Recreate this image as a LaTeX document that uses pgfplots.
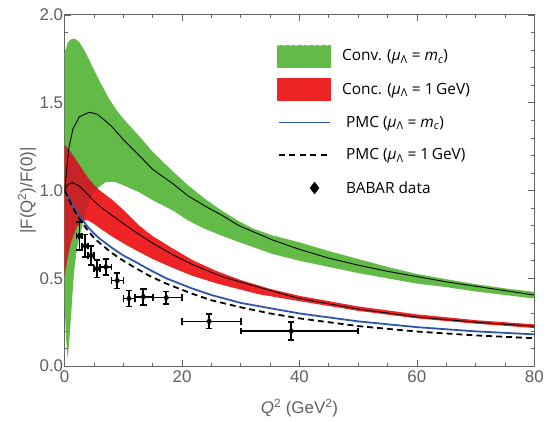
\documentclass[border=0pt]{standalone}
\usepackage{pgfplots}
\pgfplotsset{compat=1.18}
\usepackage{pgfplotstable}
\usepgfplotslibrary{fillbetween}
\usepackage{fontspec}
\setmainfont{Liberation Sans}
\newfontfamily\legfont{Open Sans}
\definecolor{cgreen}{RGB}{98,187,71}
\definecolor{cred}{RGB}{237,35,37}
\definecolor{cdark}{RGB}{200,36,40}
\definecolor{cblue}{RGB}{45,85,170}
\definecolor{fgray}{RGB}{100,100,100}
\definecolor{tgray}{RGB}{95,95,95}

\pgfplotstableread{
x y
0 1.78
0.5 1.84
1 1.86
1.7 1.865
2.5 1.845
3.5 1.79
4.8 1.70
6 1.62
7.6 1.52
9 1.45
10.5 1.39
12.7 1.31
15 1.22
18.4 1.11
21 1.03
24 0.95
27 0.88
29.7 0.825
32 0.785
35.3 0.745
40 0.705
45 0.655
50 0.61
55 0.565
60 0.525
65 0.495
70 0.467
75 0.443
80 0.423
}\gup
\pgfplotstableread{
x y
0 0.35
0.25 0.15
0.5 0.04
0.8 0.15
1.1 0.29
1.4 0.45
1.7 0.57
2.1 0.67
2.5 0.73
3 0.80
3.5 0.86
4 0.915
4.5 0.96
5.5 1.01
7 1.05
8.5 1.05
10 1.03
12.7 0.99
15 0.945
18.4 0.887
21 0.83
24 0.78
27 0.74
29.7 0.706
35.3 0.64
40 0.60
45 0.565
50 0.53
55 0.50
60 0.47
65 0.45
70 0.425
75 0.405
80 0.385
}\glo
\pgfplotstableread{
x y
0 1.0
0.3 1.1
0.7 1.24
1.4 1.35
2.5 1.42
4.2 1.446
5.5 1.435
7 1.395
8 1.365
10 1.29
12.7 1.20
15 1.12
18.4 1.04
21 0.97
24 0.91
27 0.855
29.7 0.80
35.3 0.72
40 0.665
45 0.615
50 0.575
55 0.54
60 0.51
65 0.48
70 0.455
75 0.43
80 0.405
}\gcen
\pgfplotstableread{
x y
0 1.26
1 1.22
2 1.17
3 1.12
4 1.07
5 1.03
6 1.00
8 0.95
10 0.89
12.7 0.80
15 0.74
18.4 0.67
22 0.60
26 0.54
30 0.49
35 0.44
40 0.40
50 0.34
60 0.295
70 0.262
80 0.238
}\rup
\pgfplotstableread{
x y
0 0.52
0.5 0.62
1 0.70
2 0.79
3 0.83
4 0.83
5 0.81
6 0.785
8 0.74
10.5 0.69
12.7 0.65
15 0.61
18.4 0.56
21.7 0.515
26 0.47
33 0.41
40 0.37
50 0.315
60 0.272
70 0.242
80 0.217
}\rlo
\pgfplotstableread{
x y
0 1.0
0.5 1.035
1.4 1.045
2.5 1.025
4 0.975
5 0.94
6 0.91
8 0.86
10.5 0.80
12.7 0.75
15 0.70
18.4 0.635
22 0.575
26.8 0.51
33 0.45
40 0.385
50 0.325
60 0.28
70 0.25
80 0.227
}\rcen
\pgfplotstableread{
x y
0 0.52
0.5 0.62
1 0.70
2 0.79
2.9 0.826
3.2 0.835
3.5 0.86
4 0.915
4.5 0.96
5 0.99
5.6 1.012
}\olap
\pgfplotstableread{
x y
0 1.0
1 0.94
2 0.88
3 0.835
4 0.79
5 0.755
6 0.725
8 0.675
10 0.63
12 0.595
14.4 0.55
17.3 0.50
21.5 0.445
25 0.405
30 0.36
35 0.33
40 0.30
50 0.255
60 0.222
70 0.198
80 0.181
}\pmcmc
\pgfplotstableread{
x y
0 1.0
1 0.93
2 0.865
3 0.815
4 0.77
5 0.73
6 0.70
8 0.645
10 0.60
12 0.56
14.4 0.515
17.3 0.47
21.5 0.415
25 0.375
30 0.335
35 0.30
40 0.272
50 0.228
60 0.197
70 0.175
80 0.159
}\pmcone
\pgfplotstableread{
x y exm exp ey
2.5 0.742 0.5 0.5 0.08
3.5 0.685 0.5 0.5 0.065
4.5 0.63 0.5 0.5 0.055
5.5 0.555 0.5 0.5 0.05
7.0 0.565 1.0 1.0 0.045
8.95 0.487 0.95 1.05 0.045
10.95 0.385 0.95 1.05 0.045
13.4 0.395 1.4 1.6 0.045
17.3 0.39 2.3 2.7 0.035
24.6 0.255 4.6 5.4 0.04
38.6 0.20 8.6 11.4 0.05
}\babar

\begin{document}
\begin{tikzpicture}
\begin{axis}[
  at={(0pt,0pt)}, anchor=south west,
  width=472pt, height=353pt, scale only axis,
  xmin=0, xmax=80, ymin=0, ymax=2,
  xtick={0,20,40,60,80}, minor x tick num=3,
  ytick={0,0.5,1,1.5,2}, minor y tick num=4,
  tick align=inside,
  axis line style={fgray, line width=0.9pt},
  tick style={fgray, line width=0.7pt},
  major tick length=6pt, minor tick length=3.5pt,
  /pgf/number format/assume math mode=true,
  ticklabel style={font=\fontsize{17}{20}\selectfont, text=tgray},
  y tick label style={/pgf/number format/.cd, fixed, fixed zerofill, precision=1, /tikz/.cd, xshift=2pt},
  x tick label style={yshift=-1pt},
  xlabel={\textit{Q}\textsuperscript{2} (GeV\textsuperscript{2})},
  ylabel={|F(Q\textsuperscript{2})/F(0)|},
  label style={font=\fontsize{17}{20}\selectfont, text=tgray},
  xlabel style={at={(axis description cs:0.5,-0.119)}, anchor=center},
  ylabel style={at={(axis description cs:-0.0805,0.5)}, anchor=center},
  legend style={at={(0.451,0.915)}, anchor=north west, draw=none, fill=none,
    inner sep=0pt, outer sep=0pt, nodes={inner sep=0pt},
    font=\legfont\fontsize{15.5}{18}\selectfont, row sep=11pt,
    /tikz/every odd column/.append style={column sep=11pt}},
  legend cell align=left,
]
\addplot[name path=gu, draw=none, forget plot] table {\gup};
\addplot[name path=gl, draw=none, forget plot] table {\glo};
\addplot[cgreen, forget plot] fill between[of=gu and gl];
\addplot[name path=ru, draw=none, forget plot] table {\rup};
\addplot[name path=rl, draw=none, forget plot] table {\rlo};
\addplot[cred, forget plot] fill between[of=ru and rl];
\addplot[name path=ol, draw=none, forget plot] table {\olap};
\addplot[cdark, forget plot] fill between[of=ru and ol, soft clip={domain=0:5.6}];
\addplot[black, line width=0.9pt, forget plot] table {\gcen};
\addplot[black, line width=0.9pt, forget plot] table {\rcen};
\addplot[cblue, line width=1.8pt, forget plot] table {\pmcmc};
\addplot[black, line width=1.8pt, dash pattern=on 6pt off 4pt, forget plot] table {\pmcone};
\addplot[only marks, mark=diamond*, mark size=3.4pt, black, forget plot,
  error bars/.cd, x dir=both, x explicit, y dir=both, y explicit,
  error bar style={line width=1.7pt, black},
  error mark=-,
  error mark options={rotate=90, mark size=3.2pt, line width=1.7pt, black}]
  table[x=x, y=y, x error plus=exp, x error minus=exm, y error=ey] {\babar};

\addlegendimage{legend image code/.code={\path[draw=none,fill=none] (0pt,-11pt) rectangle (54pt,11pt); \fill[cgreen] (0pt,-11pt) rectangle (54pt,11pt); \draw[cgreen!55!white, dashed, line width=0.6pt] (0pt,11pt) -- (54pt,11pt);}}
\addlegendentry{Conv. (\textit{μ}\textsubscript{Λ} = \textit{m}\textsubscript{\textit{c}})}
\addlegendimage{legend image code/.code={\path[draw=none,fill=none] (0pt,-11pt) rectangle (54pt,11pt); \fill[cred] (0pt,-11pt) rectangle (54pt,11pt);}}
\addlegendentry{Conc. (\textit{μ}\textsubscript{Λ} = 1\,GeV)}
\addlegendimage{legend image code/.code={\path[draw=none,fill=none] (0pt,-11pt) rectangle (54pt,11pt); \draw[cblue, line width=1.4pt] (2pt,0pt) -- (54pt,0pt);}}
\addlegendentry{\hspace{4pt}PMC (\textit{μ}\textsubscript{Λ} = \textit{m}\textsubscript{\textit{c}})}
\addlegendimage{legend image code/.code={\path[draw=none,fill=none] (0pt,-11pt) rectangle (54pt,11pt); \draw[black, line width=1.4pt, dash pattern=on 6pt off 4.5pt] (2pt,0pt) -- (54pt,0pt);}}
\addlegendentry{\hspace{4pt}PMC (\textit{μ}\textsubscript{Λ} = 1\,GeV)}
\addlegendimage{legend image code/.code={\path[draw=none,fill=none] (0pt,-11pt) rectangle (54pt,11pt); \draw[black] plot[mark=diamond*, mark size=6pt] coordinates {(38pt,0pt)};}}
\addlegendentry{\hspace{4pt}BABAR data}
\end{axis}
\path (-65pt,-56pt) rectangle (482pt,368pt);
\end{tikzpicture}
\end{document}
